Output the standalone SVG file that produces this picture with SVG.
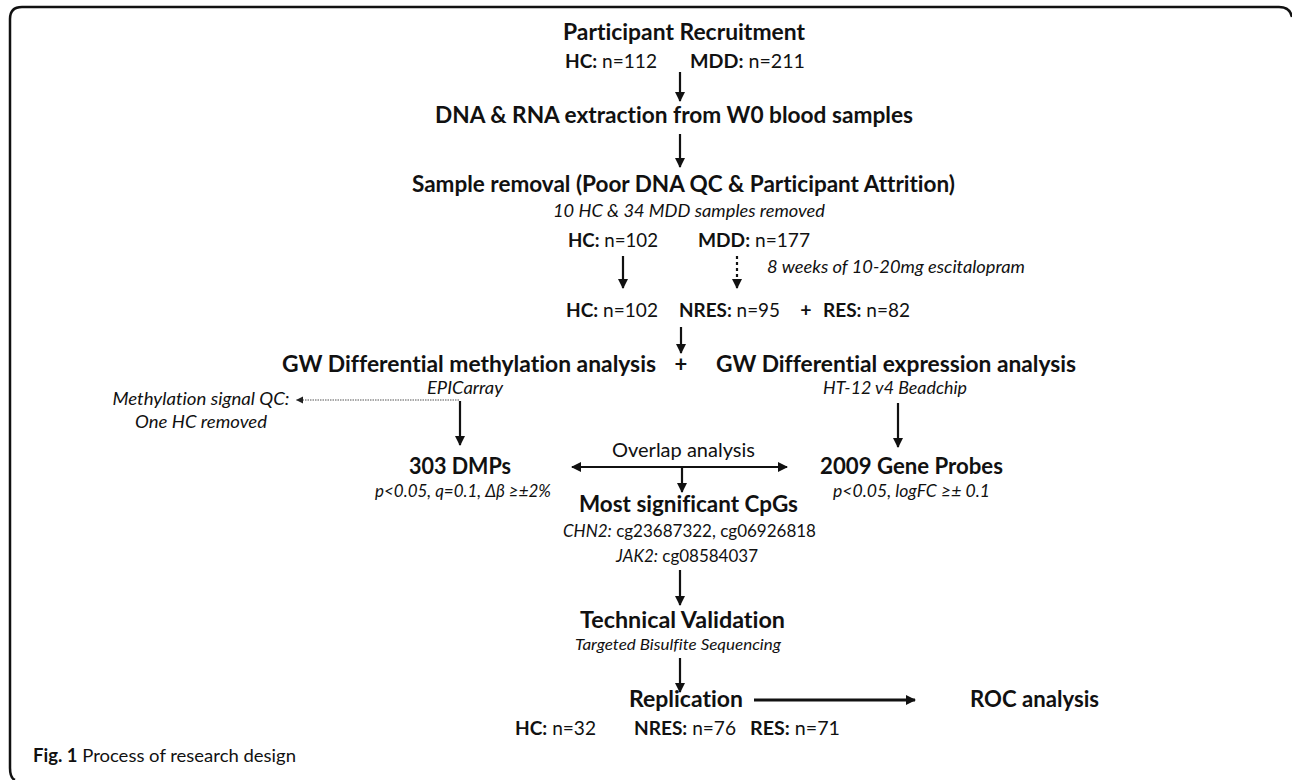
<svg xmlns="http://www.w3.org/2000/svg" width="1292" height="780" viewBox="0 0 1292 780">
<defs>
<style>
text{font-family:Lato,"Open Sans","Liberation Sans",sans-serif;fill:#111;font-variant-ligatures:none;font-feature-settings:"liga" 0}
.t{font-size:22px;font-weight:bold}
.n{font-size:19.5px}
.b{font-weight:bold}
.i{font-size:17px;font-style:italic}
.c{text-anchor:middle}
.ln{stroke:#111;stroke-width:2.2;fill:none}
</style>
<marker id="ah" markerUnits="userSpaceOnUse" markerWidth="10" markerHeight="12" refX="9" refY="5" orient="auto-start-reverse"><path d="M0,0 L10,5 L0,10 Z" fill="#111"/></marker>
<marker id="ahs" markerUnits="userSpaceOnUse" markerWidth="8" markerHeight="8" refX="7" refY="3.5" orient="auto"><path d="M0,0 L7,3.5 L0,7 Z" fill="#222"/></marker>
</defs>
<rect width="1292" height="780" fill="#fff"/>
<path d="M1292,17 Q1290,7 1279,7 H22 Q10,7 10,19 V768 Q10,778 15,780" fill="none" stroke="#111" stroke-width="2.5"/>

<g id="recruit">
<text class="t" x="563" y="40" textLength="242" lengthAdjust="spacingAndGlyphs">Participant Recruitment</text>
<text class="n" x="565" y="68" textLength="92" lengthAdjust="spacingAndGlyphs"><tspan class="b">HC:</tspan> n=112</text>
<text class="n" x="690" y="68" textLength="115" lengthAdjust="spacingAndGlyphs"><tspan class="b">MDD:</tspan> n=211</text>
</g>
<g id="extraction"><text class="t" x="435" y="123" textLength="478" lengthAdjust="spacingAndGlyphs">DNA &amp; RNA extraction from W0 blood samples</text></g>
<g id="removal">
<text class="t" x="412" y="192" textLength="543" lengthAdjust="spacingAndGlyphs">Sample removal (Poor DNA QC &amp; Participant Attrition)</text>
<text class="i" x="553" y="217" textLength="272" lengthAdjust="spacingAndGlyphs">10 HC &amp; 34 MDD samples removed</text>
<text class="n" x="568" y="247" textLength="90" lengthAdjust="spacingAndGlyphs"><tspan class="b">HC:</tspan> n=102</text>
<text class="n" x="698" y="247" textLength="112" lengthAdjust="spacingAndGlyphs"><tspan class="b">MDD:</tspan> n=177</text>
</g>
<g id="treatment"><text class="i" x="767" y="273" textLength="258" lengthAdjust="spacingAndGlyphs">8 weeks of 10-20mg escitalopram</text></g>
<g id="groups">
<text class="n" x="566" y="317" textLength="92" lengthAdjust="spacingAndGlyphs"><tspan class="b">HC:</tspan> n=102</text>
<text class="n" x="679" y="317" textLength="101" lengthAdjust="spacingAndGlyphs"><tspan class="b">NRES:</tspan> n=95</text>
<text class="n b c" x="806" y="317">+</text>
<text class="n" x="823" y="317" textLength="87" lengthAdjust="spacingAndGlyphs"><tspan class="b">RES:</tspan> n=82</text>
</g>
<g id="methylation">
<text class="t" x="282" y="372" textLength="374" lengthAdjust="spacingAndGlyphs">GW Differential methylation analysis</text>
<text class="i c" x="465" y="394" textLength="76" lengthAdjust="spacingAndGlyphs">EPICarray</text>
</g>
<g id="plus"><text class="t c" x="681" y="372">+</text></g>
<g id="expression">
<text class="t" x="716" y="372" textLength="360" lengthAdjust="spacingAndGlyphs">GW Differential expression analysis</text>
<text class="i c" x="895" y="394" textLength="144" lengthAdjust="spacingAndGlyphs">HT-12 v4 Beadchip</text>
</g>
<g id="qc">
<text class="i c" x="201" y="405" textLength="177" lengthAdjust="spacingAndGlyphs">Methylation signal QC:</text>
<text class="i c" x="201" y="428" textLength="132" lengthAdjust="spacingAndGlyphs">One HC removed</text>
</g>
<g id="dmps">
<text class="t" x="409" y="474" textLength="102" lengthAdjust="spacingAndGlyphs">303 DMPs</text>
<text class="i" x="375" y="497" textLength="176" lengthAdjust="spacingAndGlyphs">p&lt;0.05, q=0.1, Δβ ≥±2%</text>
</g>
<g id="overlap"><text x="612" y="457" style="font-size:19.5px" textLength="143" lengthAdjust="spacingAndGlyphs">Overlap analysis</text></g>
<g id="probes">
<text class="t" x="820" y="474" textLength="183" lengthAdjust="spacingAndGlyphs">2009 Gene Probes</text>
<text class="i" x="833" y="497" textLength="157" lengthAdjust="spacingAndGlyphs">p&lt;0.05, logFC ≥± 0.1</text>
</g>
<g id="cpgs">
<text class="t" x="579" y="512" textLength="219" lengthAdjust="spacingAndGlyphs">Most significant CpGs</text>
<text x="563" y="537" style="font-size:17px" textLength="253" lengthAdjust="spacingAndGlyphs"><tspan font-style="italic">CHN2:</tspan> cg23687322, cg06926818</text>
<text x="616" y="562" style="font-size:17px" textLength="142" lengthAdjust="spacingAndGlyphs"><tspan font-style="italic">JAK2:</tspan> cg08584037</text>
</g>
<g id="validation">
<text class="t" x="580" y="628" textLength="205" lengthAdjust="spacingAndGlyphs">Technical Validation</text>
<text class="i" x="575" y="650" style="font-size:15px" textLength="206" lengthAdjust="spacingAndGlyphs">Targeted Bisulfite Sequencing</text>
</g>
<g id="replication">
<text class="t" x="629" y="707" textLength="114" lengthAdjust="spacingAndGlyphs">Replication</text>
<text class="n" x="515" y="735" textLength="81" lengthAdjust="spacingAndGlyphs"><tspan class="b">HC:</tspan> n=32</text>
<text class="n" x="634" y="735" textLength="102" lengthAdjust="spacingAndGlyphs"><tspan class="b">NRES:</tspan> n=76</text>
<text class="n" x="750" y="735" textLength="90" lengthAdjust="spacingAndGlyphs"><tspan class="b">RES:</tspan> n=71</text>
</g>
<g id="roc"><text class="t" x="970" y="707" textLength="129" lengthAdjust="spacingAndGlyphs">ROC analysis</text></g>
<g id="caption"><text x="33" y="762" style="font-size:18px" textLength="263" lengthAdjust="spacingAndGlyphs"><tspan class="b">Fig. 1</tspan> Process of research design</text></g>

<g id="connectors">
<line class="ln" x1="680" y1="72" x2="680" y2="101" marker-end="url(#ah)"/>
<line class="ln" x1="680" y1="134" x2="680" y2="167" marker-end="url(#ah)"/>
<line class="ln" x1="623" y1="256" x2="623" y2="288" marker-end="url(#ah)"/>
<line class="ln" x1="737" y1="256" x2="737" y2="288" stroke-dasharray="3,3" marker-end="url(#ah)"/>
<line class="ln" x1="681" y1="327" x2="681" y2="353" marker-end="url(#ah)"/>
<line class="ln" x1="460" y1="401" x2="460" y2="445" marker-end="url(#ah)"/>
<line x1="459" y1="400" x2="296" y2="400" stroke="#555" stroke-width="1.2" stroke-dasharray="1.5,1" marker-end="url(#ahs)"/>
<line class="ln" x1="898" y1="403" x2="898" y2="447" marker-end="url(#ah)"/>
<line class="ln" x1="572" y1="467" x2="787" y2="467" marker-start="url(#ah)" marker-end="url(#ah)"/>
<line class="ln" x1="682" y1="467" x2="682" y2="492" marker-end="url(#ah)"/>
<line class="ln" x1="680" y1="570" x2="680" y2="605" marker-end="url(#ah)"/>
<line class="ln" x1="680" y1="658" x2="680" y2="692" marker-end="url(#ah)"/>
<line x1="754" y1="700" x2="915" y2="700" stroke="#111" stroke-width="2.8" marker-end="url(#ah)"/>
</g>
</svg>
